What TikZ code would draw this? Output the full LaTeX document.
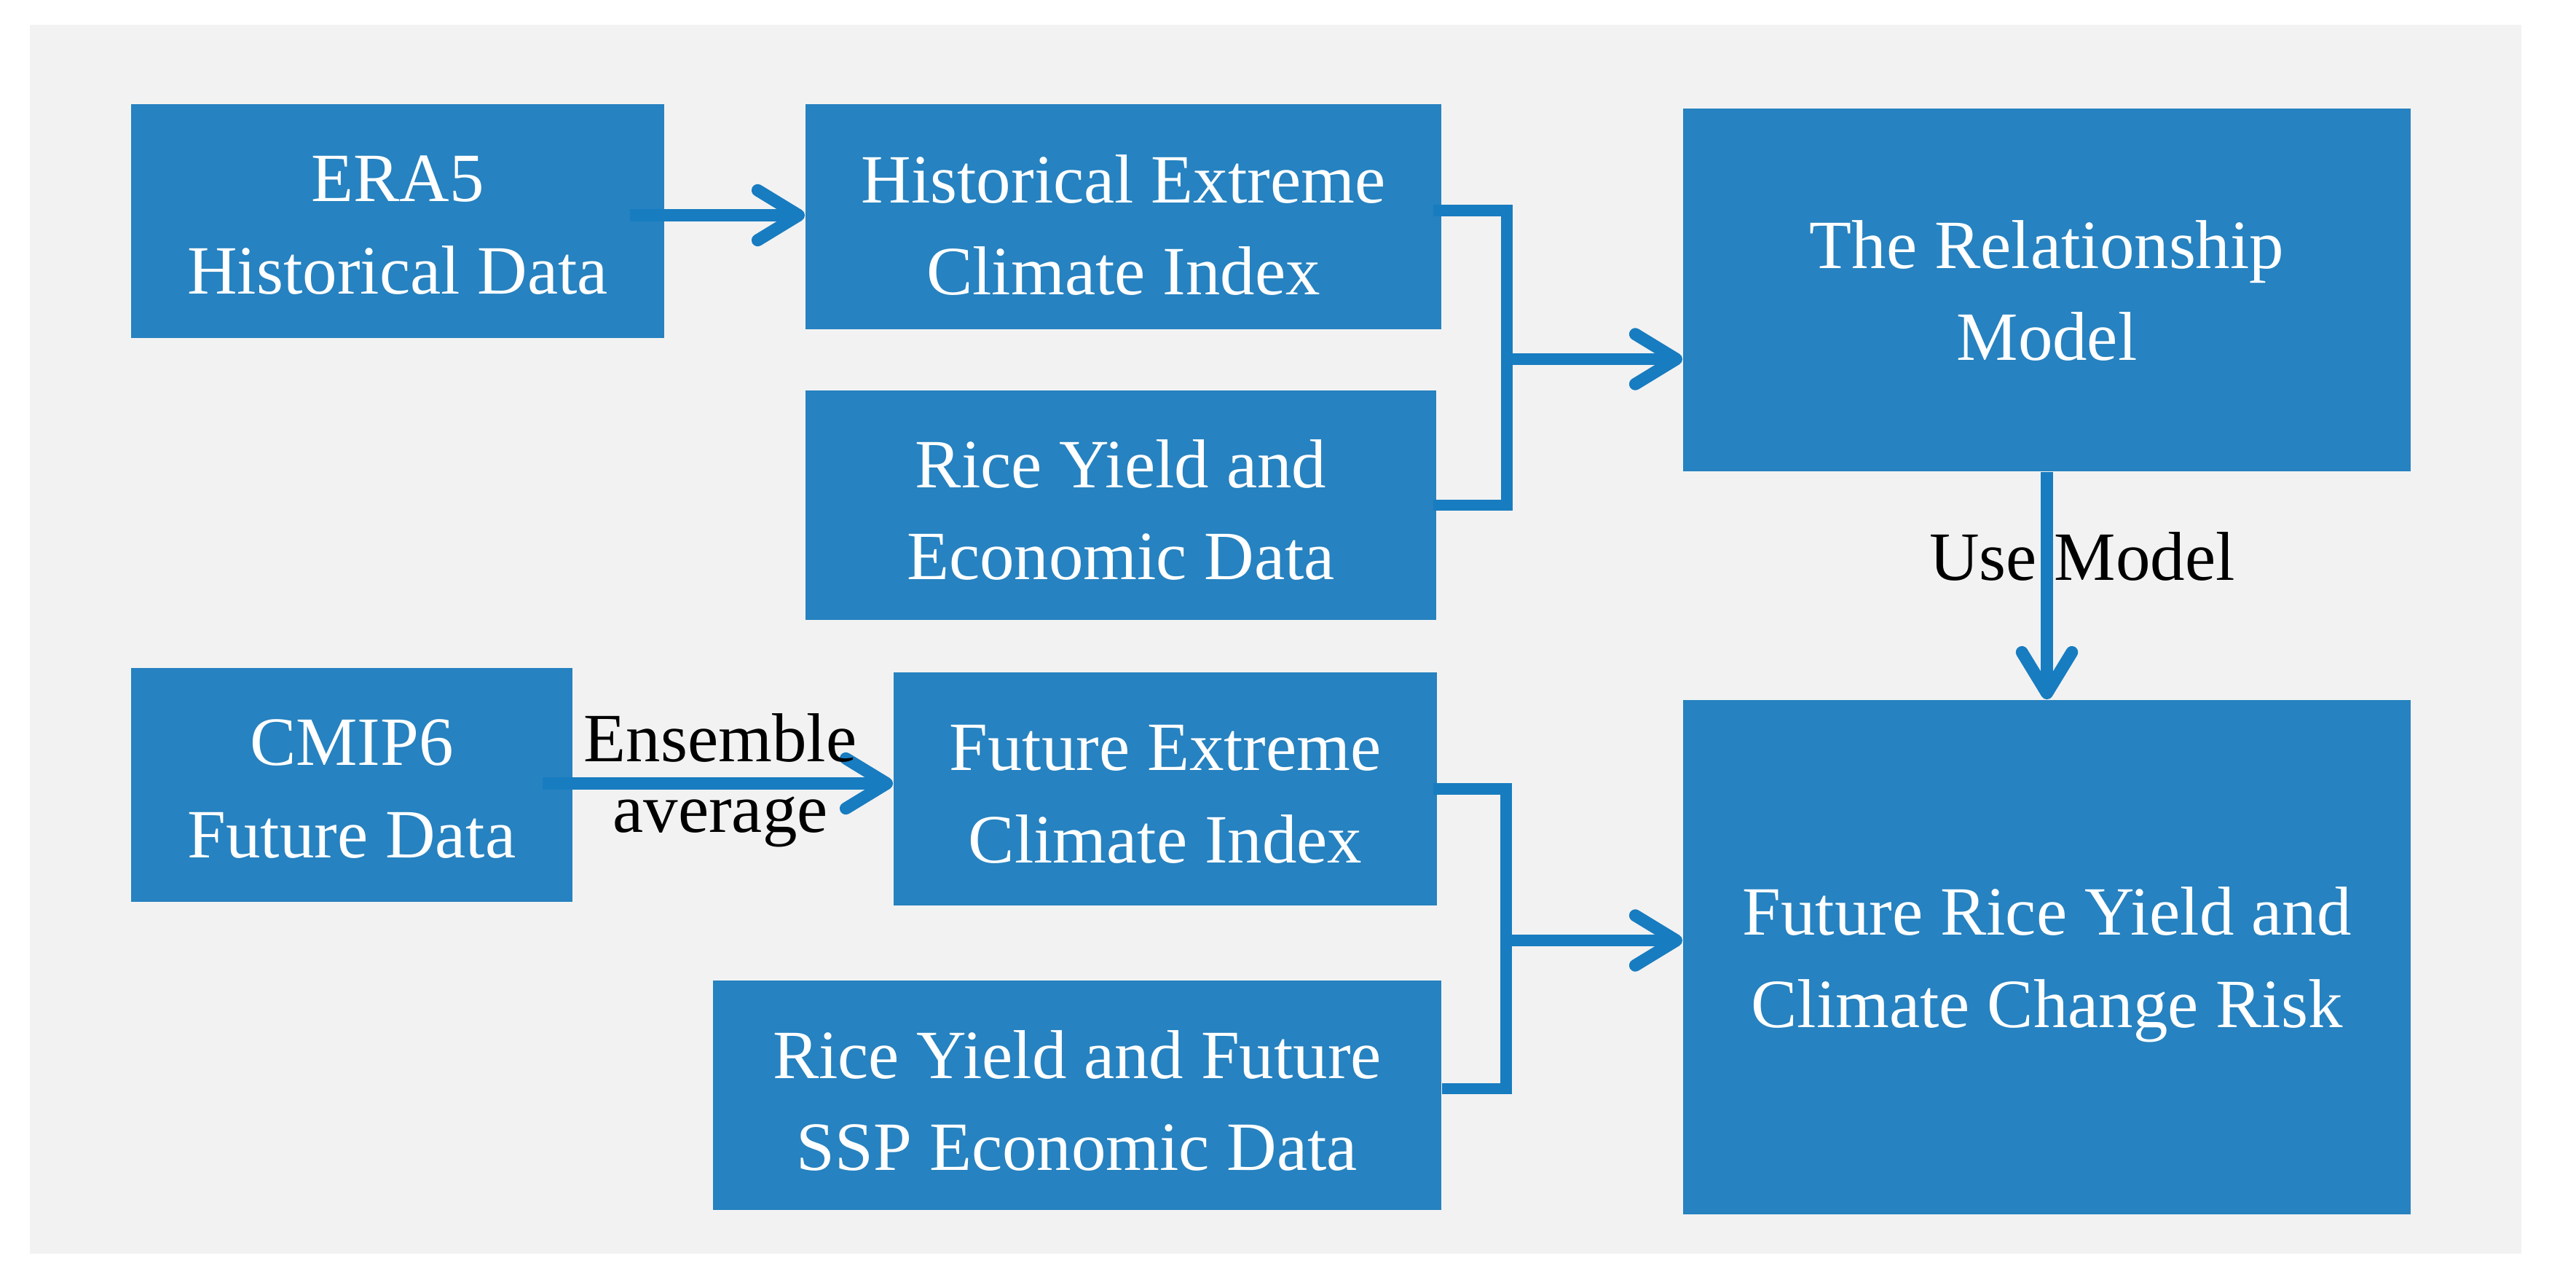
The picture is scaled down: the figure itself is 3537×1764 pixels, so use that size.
\documentclass[tikz,border=0pt]{standalone}
\usepackage{fontspec}
\setmainfont{Liberation Serif}
\usetikzlibrary{arrows.meta,calc}
\definecolor{boxblue}{HTML}{2682C0}
\definecolor{lineblue}{HTML}{187CC0}
\definecolor{bggray}{HTML}{F2F2F2}
\newcommand{\tp}[1]{\rule{0pt}{#1pt}}
\begin{document}
\begin{tikzpicture}[x=0.01cm,y=-0.01cm,
  blk/.style={fill=boxblue, text=white, align=center, inner sep=0pt, font=\fontsize{27}{36}\selectfont},
  conn/.style={draw=lineblue, line width=4.8pt, -{Straight Barb[length=16pt,width=19.5pt,line cap=round,line join=round]}},
  brk/.style={draw=lineblue, line width=4.3pt},
  lbl/.style={text=black, inner sep=0pt, align=center}
]
\useasboundingbox (0,0) rectangle (3537,1764);
\fill[bggray] (41,34) rectangle (3462,1721);

\node[blk, minimum width=7.32cm, minimum height=3.21cm] (era) at (546,303.5) {\tp{21}ERA5\\Historical Data};
\node[blk, minimum width=8.73cm, minimum height=3.09cm] (hist) at (1542.5,297.5) {\tp{25.3}Historical Extreme\\Climate Index};
\node[blk, minimum width=8.66cm, minimum height=3.15cm] (rice) at (1539,693.5) {\tp{22.5}Rice Yield and\\Economic Data};
\node[blk, minimum width=9.99cm, minimum height=4.98cm] (rel) at (2810.5,398) {\tp{19.4}The Relationship\\Model};
\node[blk, minimum width=6.06cm, minimum height=3.21cm] (cmip) at (483,1077.5) {\tp{21}CMIP6\\Future Data};
\node[blk, minimum width=7.46cm, minimum height=3.20cm] (fut) at (1600,1083) {\tp{21.9}Future Extreme\\Climate Index};
\node[blk, minimum width=10.00cm, minimum height=3.15cm] (ssp) at (1479,1503.5) {\tp{23}Rice Yield and Future\\SSP Economic Data};
\node[blk, minimum width=9.99cm, minimum height=7.06cm] (risk) at (2810.5,1314) {\tp{24.7}Future Rice Yield and\\Climate Change Risk};

% top bracket
\coordinate (j1) at (2069,493);
\draw[brk] ([xshift=-0.12cm,yshift=0.085cm]hist.east) -- ([yshift=0.085cm]hist.east -| j1) -- (rice.east -| j1) -- ([xshift=-0.05cm]rice.east);
\draw[conn] (j1) -- (j1 -| rel.west);

% bottom bracket
\coordinate (j2) at (2068,1291);
\draw[brk] ([xshift=-0.06cm]fut.east) -- (fut.east -| j2) -- ([yshift=0.09cm]ssp.east -| j2) -- ([yshift=0.09cm]ssp.east);
\draw[conn] (j2) -- (j2 -| risk.west);

% other connectors
\draw[conn] ([xshift=-0.48cm,yshift=0.08cm]era.east) -- ([yshift=0.08cm]era.east -| hist.west);
\draw[conn] ([xshift=-0.42cm,yshift=0.02cm]cmip.east) -- ([yshift=0.02cm]cmip.east -| fut.west);
\draw[conn] (rel.south) -- (risk.north);

\node[lbl, anchor=base, font=\fontsize{27}{36}\selectfont] (use) at (2859,796) {Use Model};
\node[lbl, font=\fontsize{27}{27.5}\selectfont] (ens) at (989,1071) {Ensemble\\average};
\end{tikzpicture}
\end{document}
